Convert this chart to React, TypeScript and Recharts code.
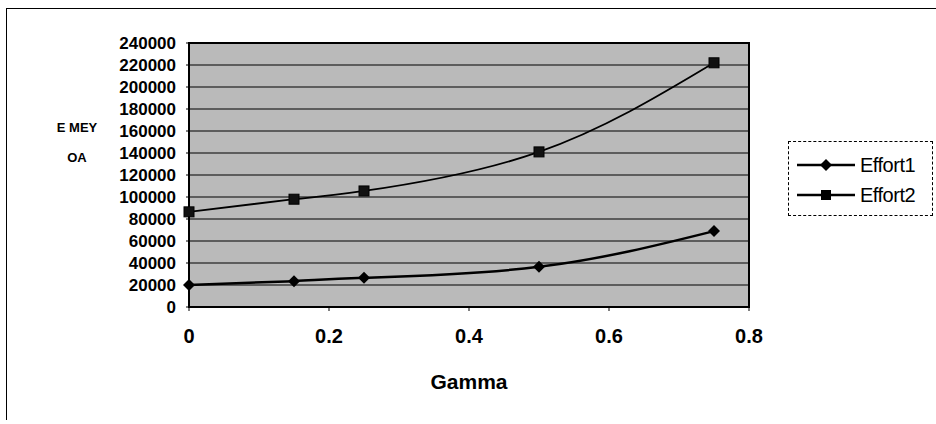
import React from "react";
import {
  LineChart,
  Line,
  XAxis,
  YAxis,
  CartesianGrid,
  Legend,
  ReferenceArea,
} from "recharts";

const gamma = [0, 0.15, 0.25, 0.5, 0.75];
const effort1 = [20000, 23500, 26500, 36500, 69000];
const effort2 = [86500, 98000, 105500, 141000, 222000];
const xTicks = [0, 0.2, 0.4, 0.6, 0.8];
const yTicks = [0, 20000, 40000, 60000, 80000, 100000, 120000, 140000, 160000, 180000, 200000, 220000, 240000];
const seriesNames = ["Effort1", "Effort2"];
const yLabelLines = ["E MEY", "OA"];
const xLabel = "Gamma";

const data = gamma.map((g, i) => ({ gamma: g, Effort1: effort1[i], Effort2: effort2[i] }));

const FONT = "'Liberation Sans', Arial, sans-serif";

const Diamond = (props: any) => {
  const { cx, cy } = props;
  if (cx == null || cy == null) return null;
  const r = 6;
  return (
    <polygon
      points={`${cx},${cy - r} ${cx + r},${cy} ${cx},${cy + r} ${cx - r},${cy}`}
      fill="#000"
    />
  );
};

const Square = (props: any) => {
  const { cx, cy } = props;
  if (cx == null || cy == null) return null;
  const r = 5;
  return <rect x={cx - r} y={cy - r} width={2 * r} height={2 * r} fill="#111" stroke="#000" />;
};

const LegendContent = () => (
  <div
    style={{
      width: 145,
      height: 75,
      border: "1px dashed #000",
      background: "#fff",
      fontFamily: FONT,
      fontSize: 20,
      color: "#000",
      boxSizing: "border-box",
      paddingTop: 8,
    }}
  >
    {seriesNames.map((name, i) => (
      <div key={name} style={{ display: "flex", alignItems: "center", height: 30, paddingLeft: 7 }}>
        <svg width={60} height={20} style={{ marginRight: 4 }}>
          <line x1={1} y1={10} x2={59} y2={10} stroke="#000" strokeWidth={2.5} />
          {i === 0 ? (
            <polygon points="30,4 36,10 30,16 24,10" fill="#000" />
          ) : (
            <rect x={25} y={5} width={10} height={10} fill="#000" />
          )}
        </svg>
        <span style={{ letterSpacing: -0.5 }}>{name}</span>
      </div>
    ))}
  </div>
);

export default function App() {
  return (
    <div style={{ position: "absolute", left: 0, top: 0, width: 936, height: 424, background: "#fff" }}>
      <div
        style={{
          position: "absolute",
          left: 6,
          top: 8,
          width: 930,
          height: 412,
          borderTop: "1px solid #000",
          borderLeft: "1px solid #000",
          boxSizing: "border-box",
        }}
      />
      <div style={{ position: "absolute", left: 0, top: 0 }}>
        <LineChart
          width={936}
          height={424}
          data={data}
          margin={{ top: 43, right: 187, bottom: 0, left: 0 }}
        >
          <CartesianGrid
            vertical={false}
            stroke="#000"
            strokeWidth={1}
            fill="#bababa"
            fillOpacity={1}
          />
          <XAxis
            dataKey="gamma"
            type="number"
            domain={[0, 0.8]}
            ticks={xTicks}
            height={117}
            tickSize={4}
            tickMargin={18}
            axisLine={{ stroke: "#000", strokeWidth: 2 }}
            tickLine={{ stroke: "#000" }}
            tick={{ fill: "#000", fontFamily: FONT, fontSize: 20, fontWeight: "bold" }}
            label={{
              content: (p: any) => {
                const vb = p.viewBox || {};
                return (
                  <text
                    x={vb.x + vb.width / 2}
                    y={vb.y + 82}
                    textAnchor="middle"
                    fontFamily={FONT}
                    fontSize={21}
                    fontWeight="bold"
                    fill="#000"
                  >
                    {xLabel}
                  </text>
                );
              },
            }}
          />
          <YAxis
            type="number"
            domain={[0, 240000]}
            ticks={yTicks}
            width={189}
            tickSize={3}
            tickMargin={10}
            interval={0}
            axisLine={{ stroke: "#000", strokeWidth: 2 }}
            tickLine={{ stroke: "#000" }}
            tick={{ fill: "#000", fontFamily: FONT, fontSize: 17, fontWeight: "bold" }}
            label={{
              content: () => (
                <g>
                  {yLabelLines.map((t, i) => (
                    <text
                      key={t}
                      x={77}
                      y={132 + i * 30}
                      textAnchor="middle"
                      fontFamily={FONT}
                      fontSize={13}
                      fontWeight="bold"
                      fill="#000"
                    >
                      {t}
                    </text>
                  ))}
                </g>
              ),
            }}
          />
          <ReferenceArea
            x1={0}
            x2={0.8}
            y1={0}
            y2={240000}
            fill="none"
            fillOpacity={0}
            stroke="#000"
            strokeWidth={2}
            ifOverflow="visible"
          />
          <Legend
            layout="vertical"
            align="center"
            verticalAlign="middle"
            content={<LegendContent />}
            wrapperStyle={{ left: 788, top: 141, width: 146, height: 76 }}
          />
          <Line
            dataKey="Effort1"
            name="Effort1"
            type="natural"
            stroke="#000"
            strokeWidth={2.5}
            dot={<Diamond />}
            activeDot={false}
            isAnimationActive={false}
          />
          <Line
            dataKey="Effort2"
            name="Effort2"
            type="natural"
            stroke="#000"
            strokeWidth={1.8}
            dot={<Square />}
            activeDot={false}
            isAnimationActive={false}
          />
        </LineChart>
      </div>
    </div>
  );
}
